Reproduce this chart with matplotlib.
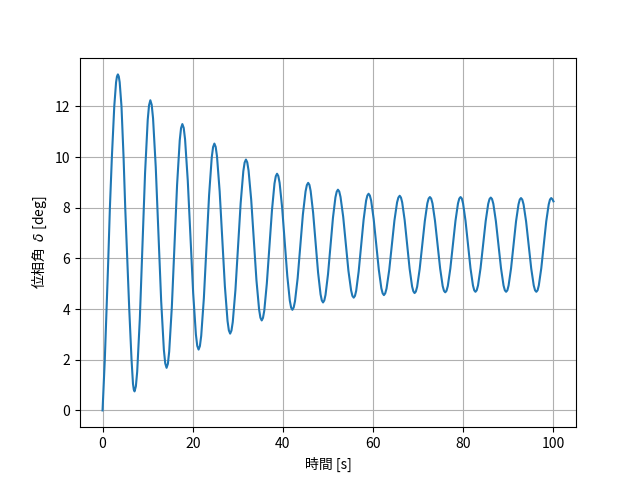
import matplotlib
matplotlib.use("Agg")
import matplotlib.pyplot as plt

plt.rcParams['font.family'] = ['Noto Sans CJK JP', 'DejaVu Sans']

# Time [s] and phase angle [deg]
time = [
    0.0, 0.5, 0.9, 1.26, 1.63, 2.07, 2.6, 3.0, 3.2, 3.4, 3.6, 3.8, 4.2, 4.66, 5.03, 5.47, 5.92, 6.43, 6.75, 6.93,
    7.1, 7.39, 7.68, 8.27, 8.85, 9.43, 10.02, 10.31,
    10.6, 10.9, 11.2, 11.8, 12.4, 13.0, 13.6, 13.9,
    14.2, 14.49, 14.78, 15.37, 15.95, 16.53, 17.12, 17.41,
    17.7, 18.0, 18.3, 18.9, 19.5, 20.1, 20.7, 21.0,
    21.3, 21.59, 21.88, 22.47, 23.05, 23.63, 24.22, 24.51,
    24.8, 25.09, 25.38, 25.97, 26.55, 27.13, 27.72, 28.01,
    28.3, 28.59, 28.88, 29.47, 30.05, 30.63, 31.22, 31.51,
    31.8, 32.09, 32.38, 32.97, 33.55, 34.13, 34.72, 35.01,
    35.3, 35.58, 35.87, 36.43, 37.0, 37.57, 38.13, 38.42,
    38.7, 38.98, 39.27, 39.83, 40.4, 40.97, 41.53, 41.82,
    42.1, 42.39, 42.68, 43.27, 43.85, 44.43, 45.02, 45.31,
    45.6, 45.88, 46.15, 46.7, 47.25, 47.8, 48.35, 48.63,
    48.9, 49.18, 49.45, 50.0, 50.55, 51.1, 51.65, 51.93,
    52.2, 52.49, 52.78, 53.37, 53.95, 54.53, 55.12, 55.41,
    55.7, 55.98, 56.25, 56.8, 57.35, 57.9, 58.45, 58.73,
    59.0, 59.28, 59.57, 60.13, 60.7, 61.27, 61.83, 62.12,
    62.4, 62.69, 62.98, 63.57, 64.15, 64.73, 65.32, 65.61,
    65.9, 66.18, 66.45, 67.0, 67.55, 68.1, 68.65, 68.93,
    69.2, 69.48, 69.77, 70.33, 70.9, 71.47, 72.03, 72.32,
    72.6, 72.88, 73.17, 73.73, 74.3, 74.87, 75.43, 75.72,
    76.0, 76.28, 76.57, 77.13, 77.7, 78.27, 78.83, 79.12,
    79.4, 79.68, 79.95, 80.5, 81.05, 81.6, 82.15, 82.43,
    82.7, 82.98, 83.27, 83.83, 84.4, 84.97, 85.53, 85.82,
    86.1, 86.38, 86.67, 87.23, 87.8, 88.37, 88.93, 89.22,
    89.5, 89.78, 90.05, 90.6, 91.15, 91.7, 92.25, 92.53,
    92.8, 93.08, 93.37, 93.93, 94.5, 95.07, 95.63, 95.92,
    96.2, 96.48, 96.75, 97.3, 97.85, 98.4, 98.95, 99.23,
    99.5, 99.78, 100.0,
]
delta = [
    0.0, 2.0, 4.0, 5.9, 8.0, 10.0, 12.0, 12.95, 13.18, 13.26, 13.18, 12.95, 12.0, 10.0, 8.0, 6.0, 4.0, 2.0, 1.05, 0.82,
    0.75, 0.95, 1.52, 3.62, 6.50, 9.37, 11.47, 12.04,
    12.24, 12.06, 11.53, 9.60, 6.96, 4.32, 2.39, 1.86,
    1.68, 1.84, 2.32, 4.09, 6.49, 8.90, 10.66, 11.14,
    11.30, 11.15, 10.70, 9.07, 6.85, 4.62, 3.00, 2.55,
    2.40, 2.54, 2.94, 4.43, 6.47, 8.50, 9.99, 10.39,
    10.53, 10.40, 10.03, 8.65, 6.78, 4.90, 3.53, 3.16,
    3.03, 3.15, 3.49, 4.75, 6.47, 8.18, 9.44, 9.78,
    9.90, 9.79, 9.47, 8.31, 6.72, 5.14, 3.98, 3.66,
    3.55, 3.65, 3.94, 5.00, 6.45, 7.89, 8.95, 9.24,
    9.34, 9.25, 8.98, 8.00, 6.65, 5.31, 4.33, 4.06,
    3.97, 4.06, 4.31, 5.22, 6.48, 7.73, 8.64, 8.89,
    8.98, 8.90, 8.66, 7.80, 6.62, 5.44, 4.58, 4.34,
    4.26, 4.34, 4.56, 5.37, 6.49, 7.60, 8.41, 8.63,
    8.71, 8.64, 8.42, 7.64, 6.58, 5.51, 4.74, 4.52,
    4.45, 4.52, 4.72, 5.48, 6.50, 7.53, 8.28, 8.48,
    8.55, 8.48, 8.28, 7.55, 6.55, 5.55, 4.82, 4.62,
    4.55, 4.62, 4.81, 5.53, 6.51, 7.49, 8.21, 8.40,
    8.47, 8.40, 8.21, 7.51, 6.55, 5.59, 4.89, 4.70,
    4.63, 4.69, 4.88, 5.58, 6.53, 7.47, 8.17, 8.36,
    8.42, 8.36, 8.17, 7.48, 6.54, 5.60, 4.91, 4.72,
    4.66, 4.72, 4.91, 5.60, 6.54, 7.48, 8.17, 8.36,
    8.42, 8.36, 8.17, 7.48, 6.55, 5.61, 4.93, 4.74,
    4.68, 4.74, 4.93, 5.61, 6.54, 7.47, 8.15, 8.34,
    8.40, 8.34, 8.15, 7.47, 6.54, 5.61, 4.93, 4.74,
    4.68, 4.74, 4.93, 5.61, 6.53, 7.46, 8.13, 8.32,
    8.38, 8.32, 8.13, 7.46, 6.53, 5.60, 4.93, 4.74,
    4.68, 4.74, 4.93, 5.61, 6.53, 7.46, 8.13, 8.32,
    8.38, 8.33, 8.25,
]

fig, ax = plt.subplots(figsize=(6.4, 4.8), dpi=100)
ax.plot(time, delta)
ax.set_xlabel('時間 [s]')
ax.set_ylabel('位相角  $\\delta$ [deg]')
ax.grid(True)

fig.savefig('out.png')
